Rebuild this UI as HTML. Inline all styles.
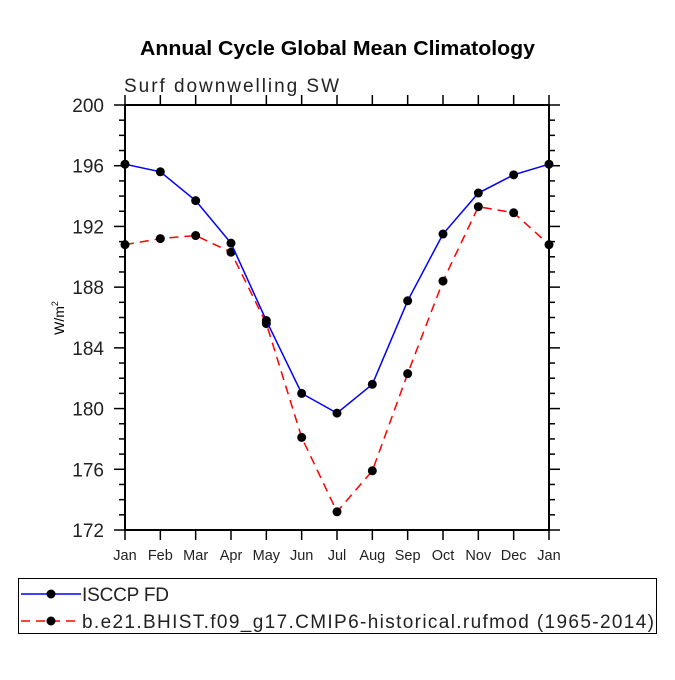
<!DOCTYPE html>
<html><head><meta charset="utf-8"><style>
body{margin:0;background:#fff;width:675px;height:675px;overflow:hidden}
svg text{font-family:"Liberation Sans",sans-serif}
</style></head><body>
<svg id="chart" width="675" height="675" xmlns="http://www.w3.org/2000/svg">
<text x="140" y="55" font-size="20" font-weight="bold" textLength="395" lengthAdjust="spacingAndGlyphs">Annual Cycle Global Mean Climatology</text>
<text x="124" y="92" font-size="19" fill="#222" textLength="215" lengthAdjust="spacing">Surf downwelling SW</text>
<text transform="translate(64,318) rotate(-90)" text-anchor="middle" font-size="14">W/m<tspan font-size="9" dy="-6">2</tspan></text>
<g id="axes"></g>
<g id="series"></g>
<g>
<rect x="18.5" y="578.5" width="638" height="55" fill="none" stroke="#000" stroke-width="1"/>
<g>
<line x1="21" y1="594" x2="81" y2="594" stroke="#0000ff" stroke-width="1.5"/>
<circle cx="51" cy="594" r="4.5"/>
<text x="82" y="601" font-size="19" fill="#222" textLength="87" lengthAdjust="spacing">ISCCP FD</text></g>
<g>
<line x1="21" y1="621" x2="81" y2="621" stroke="#ff0000" stroke-width="1.5" stroke-dasharray="9,6"/>
<circle cx="51" cy="621" r="4.5"/>
<text x="82" y="628" font-size="19" fill="#222" textLength="572" lengthAdjust="spacing">b.e21.BHIST.f09_g17.CMIP6-historical.rufmod (1965-2014)</text></g>
</g>
</svg>
<script>
const months=["Jan","Feb","Mar","Apr","May","Jun","Jul","Aug","Sep","Oct","Nov","Dec","Jan"];
const yTicks=[172,176,180,184,188,192,196,200];
const isccp=[196.1,195.6,193.7,190.9,185.8,181.0,179.7,181.6,187.1,191.5,194.2,195.4,196.1];
const model=[190.8,191.2,191.4,190.3,185.6,178.1,173.2,175.9,182.3,188.4,193.3,192.9,190.8];
const NS="http://www.w3.org/2000/svg";
const L=125,R=549,T=105,B=530,ymin=172,ymax=200;
const xs=i=>L+(R-L)*i/(months.length-1);
const ys=v=>B-(v-ymin)/(ymax-ymin)*(B-T);
function mk(tag,attrs,parent){const e=document.createElementNS(NS,tag);for(const k in attrs)e.setAttribute(k,attrs[k]);parent.appendChild(e);return e;}
const ax=document.getElementById('axes');
const frame=mk('rect',{x:L,y:T,width:R-L,height:B-T,fill:'none',stroke:'#000','stroke-width':2},ax);


months.forEach((m,i)=>{const x=xs(i);
mk('line',{x1:x,y1:B,x2:x,y2:B+10,stroke:'#000','stroke-width':1.5},ax);
mk('line',{x1:x,y1:T,x2:x,y2:T-10,stroke:'#000','stroke-width':1.5},ax);
const t=mk('text',{x:x,y:B+30,'text-anchor':'middle','font-size':14.5,fill:'#222'},ax);t.textContent=m;

});
for(let v=ymin;v<=ymax;v+=1){const y=ys(v);const major=(v-ymin)%4===0;const len=major?11:6;
mk('line',{x1:L-len,y1:y,x2:L,y2:y,stroke:'#000','stroke-width':1.5},ax);
mk('line',{x1:R,y1:y,x2:R+len,y2:y,stroke:'#000','stroke-width':1.5},ax);}
yTicks.forEach(v=>{const t=mk('text',{x:104,y:ys(v)+7,'text-anchor':'end','font-size':19,fill:'#222'},ax);t.textContent=v;

});
const sg=document.getElementById('series');
function series(vals,color,dash,name){const g=mk('g',{},sg);


mk('polyline',{points:vals.map((v,i)=>xs(i)+','+ys(v)).join(' '),fill:'none',stroke:color,'stroke-width':1.5,'stroke-dasharray':dash},g);
vals.forEach((v,i)=>{const c=mk('circle',{cx:xs(i),cy:ys(v),r:4.5,fill:'#000'},g);

});}
series(model,'#ff0000','9,6','series-model');
series(isccp,'#0000ff','none','series-isccp');
</script>
</body></html>
